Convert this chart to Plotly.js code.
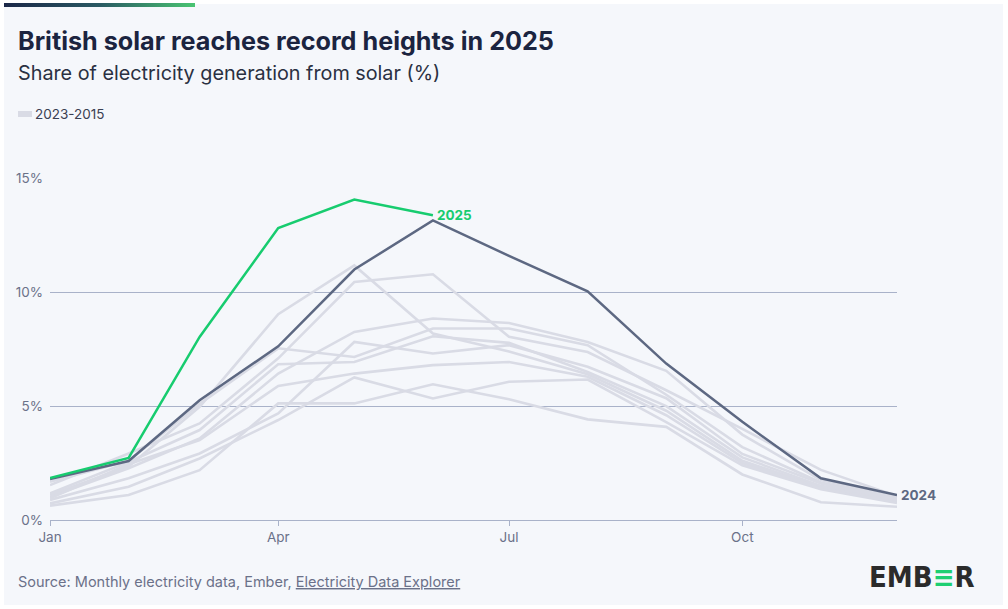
<!DOCTYPE html>
<html>
<head>
<meta charset="utf-8">
<script src="https://cdn.plot.ly/plotly-3.0.1.min.js"></script>
<style>
  html, body { margin: 0; padding: 0; background: #ffffff; }
  #wrap { position: relative; width: 1008px; height: 609px; overflow: hidden; background:#ffffff; }
  #chart { position: absolute; left: 4px; top: 4px; width: 999px; height: 601px; }
  #bar { position: absolute; left: 4px; top: 3px; width: 191px; height: 4px;
         background: linear-gradient(to right, #1b2748, #2a5a63 50%, #49c472); z-index: 5; }
</style>
</head>
<body>
<div id="wrap">
  <div id="chart"></div>
  <div id="bar"></div>
</div>
<script>
// ---- data ----
const months = ['2025-01-01','2025-02-01','2025-03-01','2025-04-01','2025-05-01','2025-06-01',
                '2025-07-01','2025-08-01','2025-09-01','2025-10-01','2025-11-01','2025-12-01'];
const tickVals = ['2025-01-01','2025-04-01','2025-07-01','2025-10-01'];
const tickText = ['Jan','Apr','Jul','Oct'];

const y2025 = [1.84, 2.73, 8.04, 12.82, 14.07, 13.38];
const y2024 = [1.80, 2.59, 5.26, 7.63, 11.00, 13.16, 11.60, 10.04, 6.87, 4.31, 1.83, 1.10];

const y2023 = [1.53, 2.92, 4.24, 7.10, 10.45, 10.79, 8.05, 7.38, 5.70, 4.00, 2.20, 1.05];
const y2022 = [1.68, 2.60, 5.10, 7.54, 7.16, 8.41, 8.41, 7.68, 5.50, 3.20, 1.65, 0.95];
const y2021 = [1.02, 2.27, 3.58, 6.43, 8.26, 8.85, 8.65, 7.82, 6.55, 3.75, 1.75, 1.00];
const y2020 = [1.10, 2.35, 4.97, 9.04, 11.18, 8.19, 7.40, 6.40, 4.80, 2.60, 1.45, 0.85];
const y2019 = [1.17, 2.55, 3.95, 6.84, 6.94, 8.07, 7.78, 6.50, 5.00, 2.75, 1.50, 0.90];
const y2018 = [0.88, 1.83, 2.92, 4.68, 7.82, 7.31, 7.68, 6.73, 5.35, 2.90, 1.60, 0.90];
const y2017 = [0.95, 2.45, 3.51, 5.89, 6.43, 6.80, 6.94, 6.29, 4.60, 2.50, 1.40, 0.80];
const y2016 = [0.73, 1.46, 2.70, 4.39, 6.26, 5.34, 6.07, 6.17, 4.30, 2.40, 1.35, 0.75];
const y2015 = [0.63, 1.10, 2.19, 5.12, 5.12, 5.96, 5.30, 4.42, 4.09, 2.00, 0.78, 0.58];

const greyYears = ['2023','2022','2021','2020','2019','2018','2017','2016','2015'];
const greySeries = [y2023, y2022, y2021, y2020, y2019, y2018, y2017, y2016, y2015];

const yTickVals = [0, 5, 10, 15];
const yTickText = ['0%', '5%', '10%', '15%'];

// ---- styles ----
const GREY = '#d9dbe5', DARK = '#5d6882', GREEN = '#17cc6f';
const GRID = '#a9b2c9', TICK = '#6b7189', BG = '#f5f7fb';
const FONT = 'Inter, "Open Sans", sans-serif';

const traces = [];
greySeries.forEach((s, i) => {
  traces.push({ x: months.slice(0, s.length), y: s, type: 'scatter', mode: 'lines', name: greyYears[i],
    line: { color: GREY, width: 2.6 }, showlegend: false, hoverinfo: 'skip' });
});
traces.push({ x: months.slice(0, y2024.length), y: y2024, type: 'scatter', mode: 'lines', name: '2024',
  line: { color: DARK, width: 2.5 }, showlegend: false, hoverinfo: 'skip' });
traces.push({ x: months.slice(0, y2025.length), y: y2025, type: 'scatter', mode: 'lines', name: '2025',
  line: { color: GREEN, width: 2.5 }, showlegend: false, hoverinfo: 'skip' });

// layout helpers: page pixel -> paper coords
const DIVX = 4, DIVY = 4, L = 46, T = 174, W = 847, H = 342;
const px = x => (x - DIVX - L) / W;
const py = y => (T + H - (y - DIVY)) / H;

const layout = {
  width: 999, height: 601,
  margin: { l: L, r: 999 - L - W, t: T, b: 601 - T - H },
  paper_bgcolor: BG, plot_bgcolor: BG,
  font: { family: FONT, color: TICK, size: 13 },
  showlegend: false,
  xaxis: {
    type: 'date', range: [months[0], months[months.length - 1]],
    tickvals: tickVals, ticktext: tickText,
    showgrid: false, zeroline: false,
    showline: true, linecolor: GRID, linewidth: 1,
    ticks: 'outside', ticklen: 5, tickcolor: GRID, tickwidth: 1,
    tickfont: { family: FONT, size: 13.5, color: TICK }, fixedrange: true
  },
  yaxis: {
    range: [0, 15.02], tickvals: yTickVals, ticktext: yTickText,
    showgrid: true, gridcolor: GRID, gridwidth: 1, zeroline: false, showline: false,
    ticks: '', ticklabelstandoff: 6,
    tickfont: { family: FONT, size: 13.5, color: TICK }, fixedrange: true
  },
  shapes: [
    { type: 'rect', xref: 'paper', yref: 'paper', x0: px(18), x1: px(32), y0: py(117), y1: py(111),
      fillcolor: GREY, line: { width: 0 } }
  ],
  annotations: [
    { xref: 'paper', yref: 'paper', x: px(16), y: py(41), xanchor: 'left', yanchor: 'middle', showarrow: false,
      text: 'British solar reaches record heights in 2025',
      font: { family: FONT, size: 25.2, color: '#1b2440', weight: 700 } },
    { xref: 'paper', yref: 'paper', x: px(16), y: py(73), xanchor: 'left', yanchor: 'middle', showarrow: false,
      text: 'Share of electricity generation from solar (%)',
      font: { family: FONT, size: 19.8, color: '#2a3042' } },
    { xref: 'paper', yref: 'paper', x: px(33), y: py(114), xanchor: 'left', yanchor: 'middle', showarrow: false,
      text: greyYears[0] + '-' + greyYears[greyYears.length - 1],
      font: { family: FONT, size: 13.5, color: '#3a4052' } },
    { x: months[y2025.length - 1], y: y2025[y2025.length - 1], xref: 'x', yref: 'y', xanchor: 'left', yanchor: 'middle',
      xshift: 2, showarrow: false, text: '<b>2025</b>', font: { family: FONT, size: 13.5, color: GREEN } },
    { x: months[y2024.length - 1], y: y2024[y2024.length - 1], xref: 'x', yref: 'y', xanchor: 'left', yanchor: 'middle',
      xshift: 2, showarrow: false, text: '<b>2024</b>', font: { family: FONT, size: 13.5, color: DARK } },
    { xref: 'paper', yref: 'paper', x: px(16), y: py(581), xanchor: 'left', yanchor: 'middle', showarrow: false,
      text: 'Source: Monthly electricity data, Ember, <span style="text-decoration:underline">Electricity Data Explorer</span>',
      font: { family: FONT, size: 14.5, color: TICK } },
    { xref: 'paper', yref: 'paper', x: px(977), y: py(577), xanchor: 'right', yanchor: 'middle', showarrow: false,
      text: '<b>EMB<span style="color:#1fcf72">≡</span>R</b>',
      font: { family: '"DejaVu Sans Condensed", "Liberation Sans Narrow", sans-serif', size: 29, color: '#2b2b2b' } }
  ]
};

Plotly.newPlot('chart', traces, layout, { displayModeBar: false, staticPlot: true });
</script>
</body>
</html>
